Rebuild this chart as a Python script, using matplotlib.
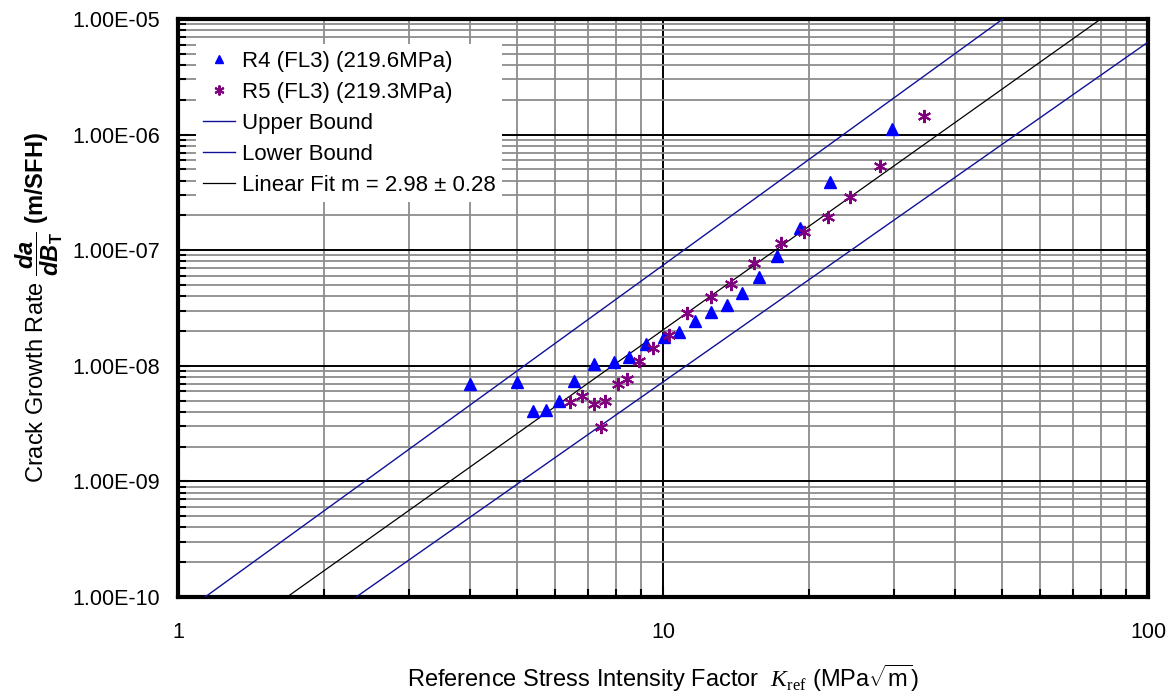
import numpy as np
import matplotlib
matplotlib.use("Agg")
import matplotlib.pyplot as plt
from matplotlib.ticker import NullFormatter, FuncFormatter

plt.rcParams['font.family'] = ['Liberation Sans', 'DejaVu Sans']
plt.rcParams['mathtext.fontset'] = 'custom'
plt.rcParams['mathtext.rm'] = 'Liberation Sans'
plt.rcParams['mathtext.sf'] = 'Liberation Sans'
plt.rcParams['mathtext.it'] = 'Liberation Sans:italic'
plt.rcParams['mathtext.bf'] = 'Liberation Sans:bold'
plt.rcParams['mathtext.bfit'] = 'Liberation Sans:italic:bold'
plt.rcParams['mathtext.cal'] = 'Liberation Serif:italic'
plt.rcParams['mathtext.tt'] = 'Liberation Serif'

# R4 (FL3) data
r4_k = [4.00, 5.00, 5.40, 5.74, 6.11, 6.55, 7.21, 7.93, 8.51, 9.22, 10.05, 10.79,
        11.64, 12.56, 13.55, 14.55, 15.78, 17.18, 19.16, 22.09, 29.66]
r4_rate = [6.96e-9, 7.24e-9, 4.06e-9, 4.15e-9, 4.96e-9, 7.39e-9, 1.04e-8, 1.08e-8,
           1.19e-8, 1.55e-8, 1.77e-8, 1.96e-8, 2.44e-8, 2.92e-8, 3.36e-8, 4.27e-8,
           5.86e-8, 8.91e-8, 1.56e-7, 3.89e-7, 1.12e-6]
# R5 (FL3) data
r5_k = [6.43, 6.81, 7.21, 7.59, 7.45, 8.08, 8.43, 8.92, 9.54, 10.29, 11.20, 12.56,
        13.81, 15.40, 17.51, 19.53, 21.88, 24.30, 28.01, 34.5]
r5_rate = [4.86e-9, 5.48e-9, 4.67e-9, 4.96e-9, 2.96e-9, 6.96e-9, 7.69e-9, 1.10e-8,
           1.43e-8, 1.85e-8, 2.86e-8, 3.94e-8, 5.10e-8, 7.75e-8, 1.15e-7, 1.44e-7,
           1.94e-7, 2.89e-7, 5.35e-7, 1.45e-6]

# Power-law lines: rate = 10**log_c * K**m
fit_m, fit_logc = 2.98, -10.67
upper_m, upper_logc = 3.04, -10.17
lower_m, lower_logc = 2.94, -11.08

legend_labels = ['R4 (FL3) (219.6MPa)', 'R5 (FL3) (219.3MPa)', 'Upper Bound',
                 'Lower Bound', 'Linear Fit m = 2.98 ± 0.28']

fig = plt.figure(figsize=(11.75, 6.95), dpi=100)
ax = fig.add_axes([178/1175, 1 - 597/695, 970/1175, 578/695])
ax.set_xscale('log')
ax.set_yscale('log')
ax.set_xlim(1, 100)
ax.set_ylim(1e-10, 1e-5)

# grids
ax.set_axisbelow(True)
ax.grid(which='minor', color='#8c8c8c', lw=1.3, zorder=0)
ax.grid(which='major', color='black', lw=1.4, zorder=0.5)

kk = np.logspace(0, 2, 200)
h1, = ax.plot(r4_k, r4_rate, linestyle='none', marker='^', color='#0000ff', ms=8, mec='#0000ff', zorder=4)
h2, = ax.plot(r5_k, r5_rate, linestyle='none', marker=(6, 2, 0), color='#800080', ms=9.5, mew=1.5, zorder=4)
h3, = ax.plot(kk, 10**upper_logc * kk**upper_m, color='#10109a', lw=1.0, zorder=3)
h4, = ax.plot(kk, 10**lower_logc * kk**lower_m, color='#10109a', lw=1.0, zorder=3)
h5, = ax.plot(kk, 10**fit_logc * kk**fit_m, color='black', lw=0.9, zorder=3)

leg = ax.legend([h1, h2, h3, h4, h5], legend_labels, loc='upper left',
                bbox_to_anchor=((196 - 178) / 970, 1 - (44 - 19) / 578),
                borderaxespad=0, fontsize=16, frameon=True,
                framealpha=1, edgecolor='none', fancybox=False,
                handlelength=1.45, handletextpad=0.3, labelspacing=0.45,
                borderpad=0.3, numpoints=1, markerscale=0.75)
leg.get_frame().set_linewidth(0)
leg.set_zorder(5)

for s in ax.spines.values():
    s.set_linewidth(3)
    s.set_color('black')

ax.yaxis.set_major_formatter(FuncFormatter(lambda v, p: '%.2E' % v))
ax.yaxis.set_minor_formatter(NullFormatter())
ax.xaxis.set_major_formatter(FuncFormatter(lambda v, p: '%g' % v))
ax.xaxis.set_minor_formatter(NullFormatter())
ax.tick_params(which='both', direction='in', labelsize=15.5, color='black',
               top=False, right=False)
ax.tick_params(which='major', length=8, width=1.5)
ax.tick_params(which='minor', length=6, width=1.5)
ax.tick_params(axis='y', which='major', pad=13)
ax.tick_params(axis='x', which='major', pad=18)

ax.set_ylabel(r'Crack Growth Rate $\dfrac{\mathbfit{da}}{\mathbfit{dB}_{\mathbf{T}}}$ $\mathbf{(m/SFH)}$',
              fontsize=17, labelpad=5)
ax.set_xlabel(r'Reference Stress Intensity Factor  $\mathcal{K}_{\mathtt{ref}}$ (MPa$\sqrt{\mathrm{m}}$)',
              fontsize=17, labelpad=14)

fig.savefig('out.png', dpi=100)
